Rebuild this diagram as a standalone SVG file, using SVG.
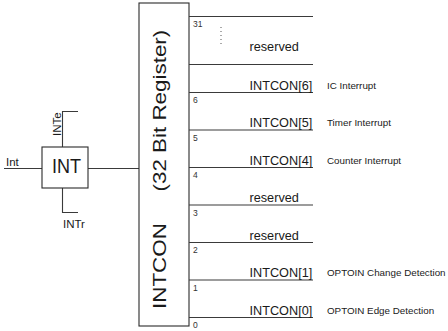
<svg xmlns="http://www.w3.org/2000/svg" width="448" height="331" viewBox="0 0 448 331">
<style>
.ln{stroke:#3a3a3a;stroke-width:1.1;fill:none}
.bx{stroke:#2a2a2a;stroke-width:1.1;fill:#fff}
text{font-family:"Liberation Sans",Arial,sans-serif;fill:#1a1a1a}
.lbl{font-size:12.7px}
.num{font-size:8.5px;fill:#333}
.desc{font-size:9.8px}
.pin{font-size:11.5px}
</style>
<rect width="448" height="331" fill="#fff"/>
<g id="connectors">
<path class="ln" d="M4 168.5H42"/>
<path class="ln" d="M88 168.5H139"/>
<path class="ln" d="M62.5 147V111.5H78"/>
<path class="ln" d="M62.5 188V212.5H78"/>
</g>
<g id="int">
<rect class="bx" x="42" y="147" width="46" height="41"/>
<text transform="translate(66.5,172.5) scale(0.86,1)" font-size="21" text-anchor="middle">INT</text>
</g>
<g id="int-in"><text class="pin" x="6" y="165.5">Int</text></g>
<g id="int-e"><text class="pin" transform="translate(60.5,136) rotate(-90)">INTe</text></g>
<g id="int-r"><text class="pin" x="63" y="227.5">INTr</text></g>
<g id="intcon">
<rect class="bx" x="139" y="3" width="50" height="323"/>
<text transform="translate(166,309) rotate(-90) scale(1,0.81)" font-size="22.4">INTCON</text>
<text transform="translate(166,191.5) rotate(-90) scale(1,0.81)" font-size="22.4">(32 Bit Register)</text>
</g>
<g id="bits">
<path class="ln" d="M189 16.5H313M189 64.5H313M189 92.5H313M189 130H313M189 167.5H313M189 205H313M189 242.5H313M189 280H313M189 317.5H313"/>
<path d="M221 27V44" stroke="#555" stroke-width="1" stroke-dasharray="1 3"/>
<text class="num" x="193" y="27">31</text>
<text class="num" x="193" y="103">6</text>
<text class="num" x="193" y="140.5">5</text>
<text class="num" x="193" y="178">4</text>
<text class="num" x="193" y="215.5">3</text>
<text class="num" x="193" y="253">2</text>
<text class="num" x="193" y="290.5">1</text>
<text class="num" x="193" y="328">0</text>
<text class="lbl" x="249.5" y="51">reserved</text>
<text class="lbl" x="249.5" y="89.5">INTCON[6]</text>
<text class="lbl" x="249.5" y="127">INTCON[5]</text>
<text class="lbl" x="249.5" y="164.5">INTCON[4]</text>
<text class="lbl" x="249.5" y="202">reserved</text>
<text class="lbl" x="249.5" y="239.5">reserved</text>
<text class="lbl" x="249.5" y="277">INTCON[1]</text>
<text class="lbl" x="249.5" y="314.5">INTCON[0]</text>
<text class="desc" x="327" y="88.5">IC Interrupt</text>
<text class="desc" x="327" y="126">Timer Interrupt</text>
<text class="desc" x="327" y="163.5">Counter Interrupt</text>
<text class="desc" x="327" y="276">OPTOIN Change Detection</text>
<text class="desc" x="327" y="313.5">OPTOIN Edge Detection</text>
</g>
</svg>
